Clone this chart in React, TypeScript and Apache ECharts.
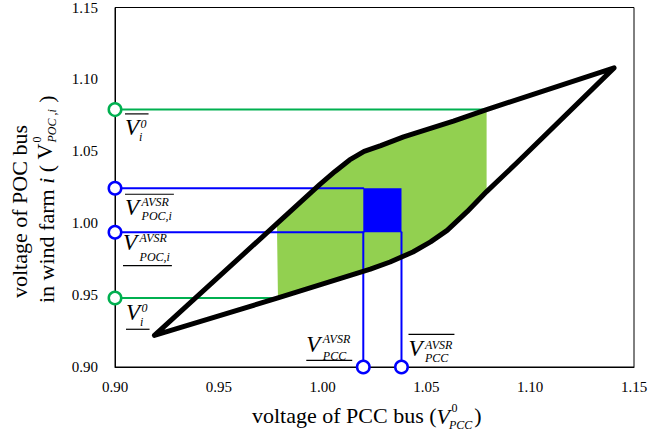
import React, { useEffect, useRef } from 'react';
import * as echarts from 'echarts';

const SERIF = '"Liberation Serif", "Times New Roman", Times, serif';

// Axis range shared by both voltages (p.u.)
const axisRange = [0.9, 1.15];
const axisStep = 0.05;

// Upper branch of the feasible (V_PCC, V_POC,i) region, left to right
const upperEdge: [number, number][] = [
  [0.919, 0.922], [0.978, 0.9997], [0.9987, 1.027], [1.006, 1.036], [1.013, 1.044],
  [1.02, 1.05], [1.028, 1.054], [1.039, 1.06], [1.063, 1.071], [1.079, 1.079],
  [1.1404, 1.108],
];
// Lower branch of the same region, left to right
const lowerEdge: [number, number][] = [
  [0.919, 0.922], [0.9785, 0.948], [1.023, 0.968], [1.0325, 0.973], [1.0435, 0.98],
  [1.052, 0.987], [1.06, 0.995], [1.0696, 1.008], [1.079, 1.022], [1.0936, 1.042],
  [1.1404, 1.108],
];

// Bounds of V_i^0 (green) and of the AVSR box (blue)
const viLimits = [0.948, 1.079];
const pocAvsrLimits = [0.9937, 1.0243];
const pccAvsrLimits = [1.0196, 1.038];
// PCC span of the shaded band
const shadedPccRange = [0.978, 1.079];

const GREEN_LINE = '#00B050';
const GREEN_FILL = '#92D050';
const BLUE = '#0000FF';

const inShaded = (p: [number, number]) =>
  p[0] >= shadedPccRange[0] - 0.001 && p[0] <= shadedPccRange[1] + 0.001;
const shadedPolygon = [
  ...upperEdge.filter(inShaded),
  ...lowerEdge.filter(inShaded).reverse(),
];
const outline = [...upperEdge, ...lowerEdge.slice().reverse()];

const ctx2d = typeof document !== 'undefined' ? document.createElement('canvas').getContext('2d') : null;
function measure(text: string, size: number, italic = false): number {
  if (!ctx2d) return text.length * size * 0.5;
  ctx2d.font = `${italic ? 'italic ' : ''}${size}px ${SERIF}`;
  return ctx2d.measureText(text).width;
}

function txt(text: string, x: number, y: number, size: number, italic = false): any {
  return {
    type: 'text', x, y, silent: true,
    style: {
      text, fontSize: size, fontFamily: SERIF, fontStyle: italic ? 'italic' : 'normal',
      fill: '#000', align: 'left', verticalAlign: 'middle',
    },
  };
}

function bar(x1: number, x2: number, y: number): any {
  return { type: 'line', silent: true, shape: { x1, y1: y, x2, y2: y }, style: { stroke: '#000', lineWidth: 1.2 } };
}

interface SymOpts {
  sup: string; sub: string; bar: 'over' | 'under';
  supDy: number; subDy: number; barDy: number; supDx?: number; subDx?: number;
}

const V_SIZE = 23;
const SCRIPT_SIZE = 12;

// Italic V with stacked superscript / subscript and an over- or under-bar
function symbolV(left: number, mid: number, s: SymOpts): any[] {
  const vw = measure('V', V_SIZE, true);
  const supX = left + vw + (s.supDx ?? 2.5);
  const subX = left + vw + (s.subDx ?? 2.5);
  const right = Math.max(supX + measure(s.sup, SCRIPT_SIZE, true), subX + measure(s.sub, SCRIPT_SIZE, true));
  return [
    txt('V', left, mid, V_SIZE, true),
    txt(s.sup, supX, mid + s.supDy, SCRIPT_SIZE, true),
    txt(s.sub, subX, mid + s.subDy, SCRIPT_SIZE, true),
    bar(left, right + 2, mid + s.barDy),
  ];
}

const lineSeries = (data: number[][], color: string, width: number, z: number): any => ({
  type: 'line', data, symbol: 'none', silent: true, z,
  lineStyle: { color, width, join: 'round', cap: 'round' },
});

const axisCommon = (margin: number): any => ({
  type: 'value',
  min: axisRange[0],
  max: axisRange[1],
  interval: axisStep,
  axisLine: { show: true, onZero: false, lineStyle: { color: '#000', width: 1 } },
  axisTick: { show: false },
  splitLine: { show: false },
  axisLabel: {
    fontFamily: SERIF, fontSize: 15, color: '#000', margin,
    formatter: (v: number) => v.toFixed(2),
  },
});

const option: any = {
  animation: false,
  backgroundColor: '#fff',
  grid: { left: 115, right: 37, top: 7, bottom: 70, show: true, borderColor: '#000', borderWidth: 1 },
  xAxis: axisCommon(12),
  yAxis: axisCommon(17),
  series: [
    {
      type: 'custom', silent: true, z: 1, data: [[1, 1]],
      renderItem: (_p: any, api: any) => ({
        type: 'polygon',
        shape: { points: shadedPolygon.map((p) => api.coord(p)) },
        style: { fill: GREEN_FILL },
      }),
    },
    lineSeries([[axisRange[0], viLimits[1]], [shadedPccRange[1], viLimits[1]]], GREEN_LINE, 2, 2),
    lineSeries([[axisRange[0], viLimits[0]], [shadedPccRange[0], viLimits[0]]], GREEN_LINE, 2, 2),
    lineSeries([[axisRange[0], pocAvsrLimits[1]], [pccAvsrLimits[0], pocAvsrLimits[1]]], BLUE, 2, 2),
    lineSeries([[axisRange[0], pocAvsrLimits[0]], [pccAvsrLimits[0], pocAvsrLimits[0]]], BLUE, 2, 2),
    lineSeries([[pccAvsrLimits[0], axisRange[0]], [pccAvsrLimits[0], pocAvsrLimits[0]]], BLUE, 2, 2),
    lineSeries([[pccAvsrLimits[1], axisRange[0]], [pccAvsrLimits[1], pocAvsrLimits[0]]], BLUE, 2, 2),
    {
      type: 'custom', silent: true, z: 3, data: [[1, 1]],
      renderItem: (_p: any, api: any) => {
        const a = api.coord([pccAvsrLimits[0], pocAvsrLimits[1]]);
        const b = api.coord([pccAvsrLimits[1], pocAvsrLimits[0]]);
        return { type: 'rect', shape: { x: a[0], y: a[1], width: b[0] - a[0], height: b[1] - a[1] }, style: { fill: BLUE } };
      },
    },
    lineSeries(outline, '#000', 5, 4),
    {
      type: 'scatter', clip: false, silent: true, z: 10, symbol: 'circle', symbolSize: 12.5,
      itemStyle: { color: '#fff', borderColor: GREEN_LINE, borderWidth: 2.5, opacity: 1 },
      data: viLimits.map((v) => [axisRange[0], v]),
    },
    {
      type: 'scatter', clip: false, silent: true, z: 10, symbol: 'circle', symbolSize: 12.5,
      itemStyle: { color: '#fff', borderColor: BLUE, borderWidth: 2.5, opacity: 1 },
      data: [
        ...pocAvsrLimits.map((v) => [axisRange[0], v]),
        ...pccAvsrLimits.map((v) => [v, axisRange[0]]),
      ],
    },
  ],
};

export default function App() {
  const ref = useRef<HTMLDivElement>(null);

  useEffect(() => {
    const chart = echarts.init(ref.current!, null, { renderer: 'svg' });
    chart.setOption(option);

    const toPx = (x: number, y: number) =>
      chart.convertToPixel({ xAxisIndex: 0, yAxisIndex: 0 }, [x, y]) as number[];
    const x0 = toPx(axisRange[0], axisRange[0])[0];
    const yAxisPx = toPx(axisRange[0], axisRange[0])[1];
    const yOf = (v: number) => toPx(axisRange[0], v)[1];
    const xOf = (v: number) => toPx(v, axisRange[0])[0];

    const els: any[] = [];
    // bound labels along the vertical axis
    els.push(...symbolV(x0 + 10, yOf(viLimits[1]) + 18, {
      sup: '0', sub: 'i', bar: 'over', supDy: -4, subDy: 9, barDy: -13.7, supDx: 1.5, subDx: 0,
    }));
    els.push(...symbolV(x0 + 10, yOf(pocAvsrLimits[1]) + 19.2, {
      sup: 'AVSR', sub: 'POC,i', bar: 'over', supDy: -5.5, subDy: 8.5, barDy: -13.2,
    }));
    els.push(...symbolV(x0 + 8, yOf(pocAvsrLimits[0]) + 10.4, {
      sup: 'AVSR', sub: 'POC,i', bar: 'under', supDy: -4.5, subDy: 14, barDy: 23,
    }));
    els.push(...symbolV(x0 + 11, yOf(viLimits[0]) + 14.8, {
      sup: '0', sub: 'i', bar: 'under', supDy: -5.2, subDy: 9.2, barDy: 16.5, supDx: 1.5, subDx: 0,
    }));
    // bound labels along the horizontal axis
    els.push(...symbolV(xOf(pccAvsrLimits[0]) - 57, yAxisPx - 22.8, {
      sup: 'AVSR', sub: 'PCC', bar: 'under', supDy: -5, subDy: 11.5, barDy: 16.2,
    }));
    els.push(...symbolV(xOf(pccAvsrLimits[1]) + 7, yAxisPx - 18.2, {
      sup: 'AVSR', sub: 'PCC', bar: 'over', supDy: -4.3, subDy: 9.2, barDy: -14.5,
    }));

    const TITLE = 22;
    // x-axis title: voltage of PCC bus (V^0_PCC)
    {
      const mid = yAxisPx + 48;
      let x = 252;
      const head = 'voltage of PCC bus (';
      els.push(txt(head, x, mid, TITLE));
      x += measure(head, TITLE);
      els.push(txt('V', x, mid + 1, TITLE, true));
      x += measure('V', TITLE, true);
      els.push(txt('0', x + 1.5, mid - 7, 12));
      els.push(txt('PCC', x - 1, mid + 9.5, 12, true));
      x += measure('PCC', 12, true);
      els.push(txt(')', x + 1, mid, TITLE));
    }

    // y-axis title, two lines rotated to read bottom-to-top
    {
      const children: any[] = [];
      const l1 = 'voltage of POC bus';
      children.push(txt(l1, -298, 19.7, TITLE));
      let lx = -303;
      const ly = 46;
      const a = 'in wind farm ';
      children.push(txt(a, lx, ly, TITLE));
      lx += measure(a, TITLE);
      children.push(txt('i', lx, ly, TITLE, true));
      lx += measure('i', TITLE, true);
      const b = ' ( ';
      children.push(txt(b, lx, ly, TITLE));
      lx += measure(b, TITLE);
      children.push(txt('V', lx, ly - 2, TITLE));
      lx += measure('V', TITLE);
      children.push(txt('0', lx + 1, ly - 9, 12));
      children.push(txt('POC ,i', lx + 1, ly + 6, 12, true));
      lx += measure('POC ,i', 12, true) + 2;
      children.push(txt(' )', lx, ly, TITLE));
      els.push({ type: 'group', x: 0, y: 0, rotation: Math.PI / 2, children });
    }

    chart.setOption({ graphic: els });
    return () => chart.dispose();
  }, []);

  return <div ref={ref} style={{ position: 'fixed', left: 0, top: 0, width: 671, height: 437 }} />;
}
